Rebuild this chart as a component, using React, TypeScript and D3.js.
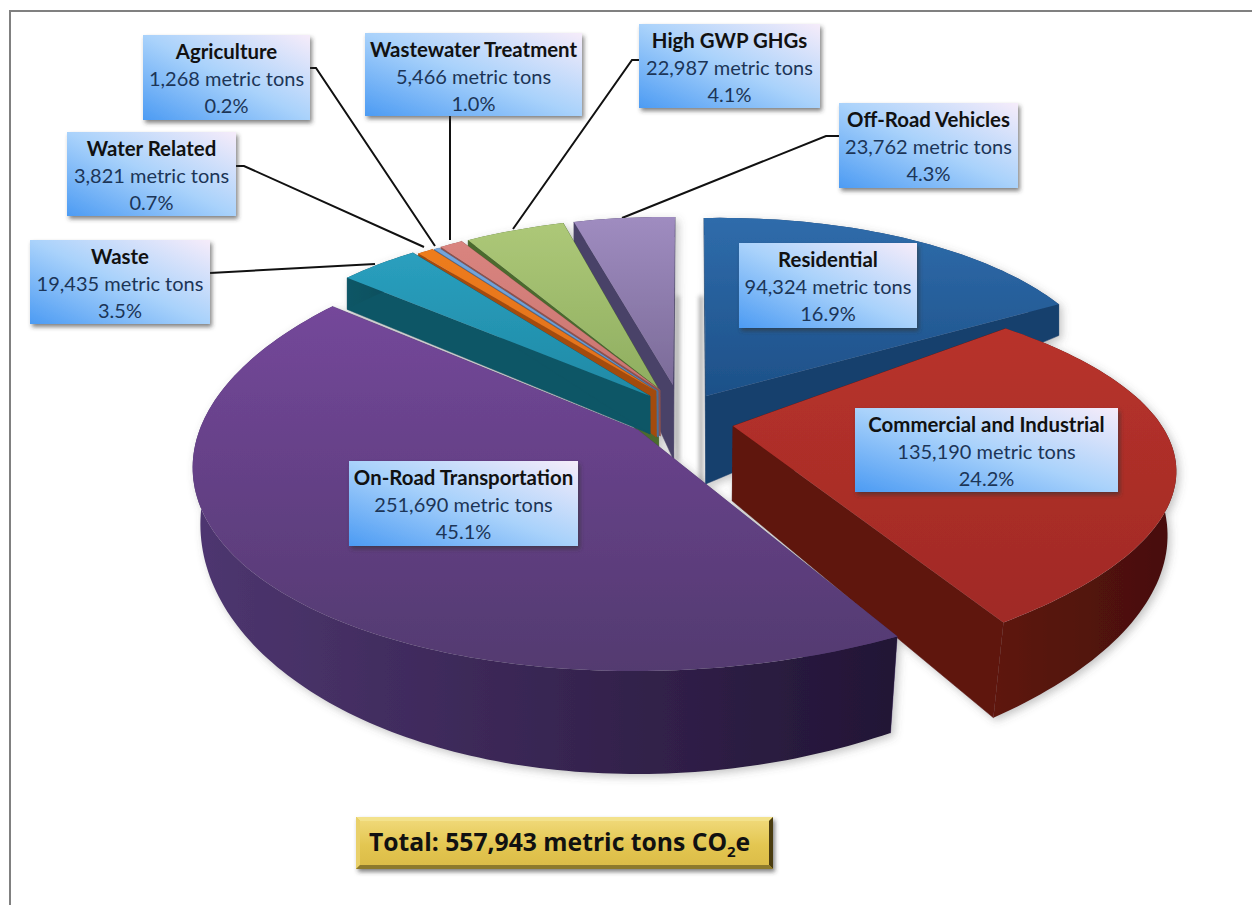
import React from "react";
import * as d3 from "d3";

// ---- data ----
const categories = ["Residential","Commercial and Industrial","On-Road Transportation","Waste","Water Related","Agriculture","Wastewater Treatment","High GWP GHGs","Off-Road Vehicles"];
const tons = [94324,135190,251690,19435,3821,1268,5466,22987,23762];
const totalLabel = "Total: 557,943 metric tons CO";

// ---- layout (projection of each exploded slice; not data) ----
const sliceApex = [[706,396],[733,426],[638,430],[650,396],[656,391],[658,391],[660,390],[658,388],[673,385]];
const sliceCentre = [[706,398],[554,485],[674,449],[650,396],[656,391],[658,391],[660,390],[658,388],[673,385]];
const sliceAxes = [[405,2,-7,180],[603,154,-66,203],[480,-36,-2,222],[405,-8,7,174],[395,0,0,172],[395,0,0,172],[395,0,0,172],[395,-10,0,171],[382,-2,4,168]];
// depth at apex, rim depth at Y=0, rim depth slope with Y
const sliceDepth = [[88,45,28],[75,58,44],[80,60,43],[38,48,25],[46,14,8],[46,12,8],[46,12,8],[66,20,14],[75,38,18]];
const drawOrder = [0,8,7,6,5,4,3,1,2];

const topColors = [["#2f6cab","#1d5088"],["#b8322b","#a02a25"],["#74479a","#533a70"],["#2a9fbe","#1f8aa6"],["#ee7c1e","#e0701a"],["#74a5da","#6a9ad0"],["#d9847f","#c97570"],["#adc878","#8fae60"],["#9f8cc0","#7b6b98"]];
const wallColors = [["#17406d","#17406d"],["#5e1610","#470f0c"],["#4e3670","#221535"],["#0e5666","#0c4a59"],["#a34c10","#8f4310"],["#4a6f9a","#4a6f9a"],["#8d514d","#8d514d"],["#4b6a2e","#45622a"],["#4a4268","#453d60"]];

const labelBoxes = [[739,243,178,85],[855,408,263,84],[349,461,229,85],[30,240,180,84],[67,132,169,84],[143,35,167,85],[365,33,217,83],[639,24,181,84],[839,103,179,85]];
const leaderLines = [null,null,null,
  [[210,273],[375,264]],
  [[236,166],[244,166],[424,247]],
  [[310,68],[316,68],[435,246]],
  [[450,116],[450,240]],
  [[639,60],[632,60],[513,229]],
  [[839,136],[826,136],[622,218]]];

const total = d3.sum(tons);
const pie = d3.pie<number>().sort(null).startAngle(0).endAngle(2*Math.PI);
const arcs = pie(tons);
const poly = d3.line<number[]>().x(p=>p[0]).y(p=>p[1]).curve(d3.curveLinearClosed);
const open = d3.line<number[]>().x(p=>p[0]).y(p=>p[1]);
const fmt = d3.format(",");
const pct = d3.format(".1%");

function rim(i:number, t:number){
  const X=Math.sin(t), Y=-Math.cos(t);
  const [a,b,c,d]=sliceAxes[i], [ex,ey]=sliceCentre[i];
  return {p:[ex+a*X+b*Y, ey+c*X+d*Y], Y};
}
function drop(p:number[], depth:number){
  return [p[0]-(p[0]-700)*Math.max(0,depth-35)*0.00055, p[1]+depth];
}
function rimLow(i:number,t:number){
  const r=rim(i,t);
  return drop(r.p, sliceDepth[i][1]+sliceDepth[i][2]*r.Y);
}

function Slice({i}:{i:number}){
  const {startAngle:s,endAngle:e}=arcs[i];
  const n=Math.max(2,Math.ceil((e-s)/0.02));
  const ts=d3.range(n+1).map(k=>s+(e-s)*k/n);
  const apex=sliceApex[i];
  const apexLow=drop(apex,sliceDepth[i][0]);
  const top=[apex,...ts.map(t=>rim(i,t).p)];
  const wallRim=[...ts.map(t=>rim(i,t).p),...ts.slice().reverse().map(t=>rimLow(i,t))];
  const wall0=[apex,rim(i,s).p,rimLow(i,s),apexLow];
  const wall1=[apex,rim(i,e).p,rimLow(i,e),apexLow];
  return <g>
    <path d={poly(wall0)!} fill={wallColors[i][0]} stroke={wallColors[i][0]} strokeWidth={0.5}/>
    <path d={poly(wall1)!} fill={wallColors[i][0]} stroke={wallColors[i][0]} strokeWidth={0.5}/>
    <path d={poly(wallRim)!} fill={`url(#wall${i})`}/>
    <path d={poly(top)!} fill={`url(#top${i})`}/>
  </g>;
}

export default function App(){
  return <svg width={1252} height={905} viewBox="0 0 1252 905" style={{position:"absolute",left:0,top:0,background:"#fff"}} fontFamily="Lato, 'Open Sans', sans-serif">
    <defs>
      <filter id="boxShadow" x="-10%" y="-10%" width="125%" height="130%">
        <feDropShadow dx={2} dy={3} stdDeviation={2} floodColor="#333" floodOpacity={0.6}/>
      </filter>
      <filter id="pieShadow" x="-5%" y="-5%" width="110%" height="115%">
        <feDropShadow dx={3} dy={3} stdDeviation={4} floodColor="#555" floodOpacity={0.35}/>
      </filter>
      <filter id="soft" x="-300%" y="-10%" width="700%" height="120%"><feGaussianBlur stdDeviation={2}/></filter>
      <linearGradient id="box" x1="0" y1="1" x2="1" y2="0">
        <stop offset="0" stopColor="#4c9bf3"/><stop offset="0.5" stopColor="#a9d2fb"/><stop offset="1" stopColor="#f6ecfa"/>
      </linearGradient>
      <linearGradient id="gold" x1="0" y1="0" x2="0" y2="1">
        <stop offset="0" stopColor="#efd877"/><stop offset="0.55" stopColor="#e3c651"/><stop offset="1" stopColor="#dcbd48"/>
      </linearGradient>
      {categories.map((_,i)=><linearGradient key={i} id={`top${i}`} x1="0" y1="0" x2="0" y2="1">
        <stop offset="0" stopColor={topColors[i][0]}/><stop offset="1" stopColor={topColors[i][1]}/>
      </linearGradient>)}
      {categories.map((_,i)=><linearGradient key={i} id={`wall${i}`} x1="0" y1="0" x2="1" y2="0">
        <stop offset="0" stopColor={wallColors[i][0]}/><stop offset="1" stopColor={wallColors[i][1]}/>
      </linearGradient>)}
    </defs>
    <rect x={0} y={0} width={1252} height={905} fill="#fff"/>
    <path d="M10,905 V11 H1252" fill="none" stroke="#808080" strokeWidth={2}/>

    <rect x={676} y={296} width={3} height={165} fill="#777" opacity={0.6} filter="url(#soft)"/>
    <rect x={699} y={296} width={4} height={190} fill="#777" opacity={0.6} filter="url(#soft)"/>

    {leaderLines.map((l,i)=>l && <path key={i} d={open(l as number[][])!} fill="none" stroke="#111" strokeWidth={2}/>)}

    <g filter="url(#pieShadow)">
      {drawOrder.map(i=><Slice key={i} i={i}/>)}
    </g>

    {categories.map((name,i)=>{
      const [x,y,w,h]=labelBoxes[i];
      const cx=x+w/2;
      return <g key={name}>
        <rect x={x} y={y} width={w} height={h} fill="url(#box)" filter="url(#boxShadow)"/>
        <text x={cx} y={y+24} textAnchor="middle" fontSize={20.4} fontWeight={700} fill="#111">{name}</text>
        <text x={cx} y={y+51} textAnchor="middle" fontSize={20} fill="#1c3557">{fmt(tons[i])} metric tons</text>
        <text x={cx} y={y+78} textAnchor="middle" fontSize={20} fill="#1c3557">{pct(tons[i]/total)}</text>
      </g>;
    })}

    <g>
      <rect x={356} y={817} width={417} height={52} fill="#d9bb45" filter="url(#boxShadow)"/>
      <path d="M356,817 H773 L769,821 H360 Z" fill="#f3e28c"/>
      <path d="M356,817 L360,821 V865 L356,869 Z" fill="#e9d06a"/>
      <path d="M773,817 L769,821 V865 L773,869 Z" fill="#4a3c10"/>
      <path d="M356,869 L360,865 H769 L773,869 Z" fill="#8d7a2c"/>
      <rect x={360} y={821} width={409} height={44} fill="url(#gold)"/>
      <text x={369} y={851} fontFamily="'Open Sans', sans-serif" fontSize={24.7} fontWeight={700} fill="#111">{totalLabel}<tspan dy={6} fontSize={15}>2</tspan><tspan dy={-6}>e</tspan></text>
    </g>
  </svg>;
}
